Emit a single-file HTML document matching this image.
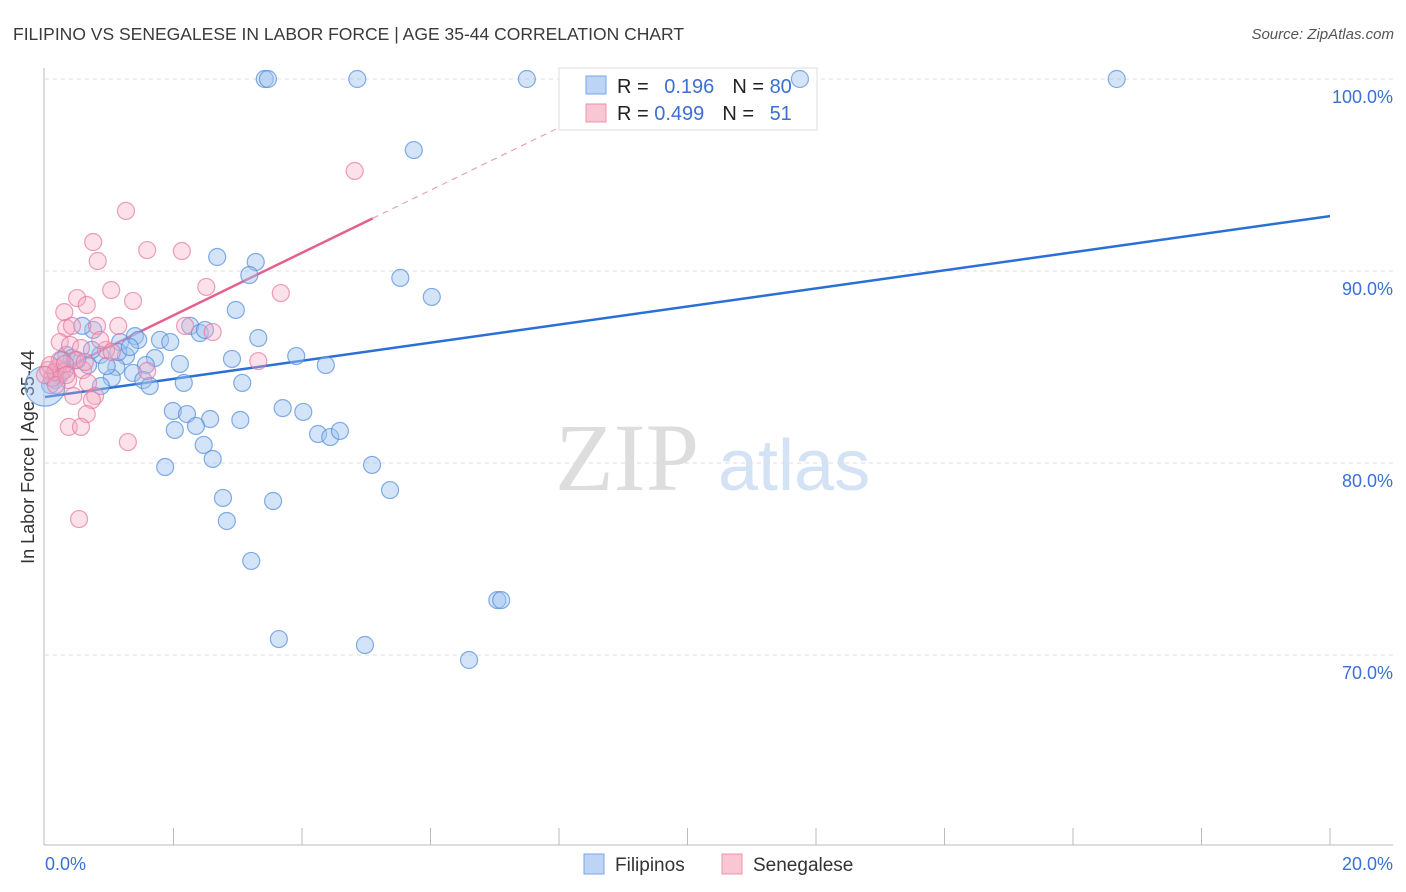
<!DOCTYPE html>
<html><head><meta charset="utf-8"><style>
body{margin:0;background:#fff;font-family:"Liberation Sans",sans-serif}
svg{display:block}
</style></head><body>
<svg id="chart" width="1406" height="892" xmlns="http://www.w3.org/2000/svg">
<text x="13" y="40" font-size="17.5" fill="#3a3a3a">FILIPINO VS SENEGALESE IN LABOR FORCE | AGE 35-44 CORRELATION CHART</text>
<text x="1394" y="39" font-size="15" fill="#555" font-style="italic" text-anchor="end">Source: ZipAtlas.com</text>
<text x="555" y="490" font-size="96" fill="#ddd" font-family="Liberation Serif,serif">ZIP</text>
<text x="718" y="490" font-size="72" fill="#d4e2f5">atlas</text>
<text transform="translate(34,457) rotate(-90)" font-size="18" fill="#333" text-anchor="middle">In Labor Force | Age 35-44</text>
<g id="grid"></g><g id="lines"></g>
<g>
<rect x="559" y="68" width="258" height="62" fill="#fff" stroke="#ddd"/>
<rect x="586" y="76" width="20" height="18" fill="#bcd4f5" stroke="#7aa6e6"/>
<rect x="586" y="104" width="20" height="18" fill="#f9c6d4" stroke="#eb93ad"/>
<text x="617" y="93" font-size="20" fill="#222">R = <tspan fill="#3b6fd4" dx="10">0.196</tspan><tspan dx="18">N = </tspan><tspan fill="#3b6fd4">80</tspan></text>
<text x="617" y="120" font-size="20" fill="#222">R = <tspan fill="#3b6fd4">0.499</tspan><tspan dx="18">N = </tspan><tspan fill="#3b6fd4" dx="10">51</tspan></text>
</g>
<g id="pts"></g>
<g>
<rect x="584" y="854" width="20" height="20" fill="#bcd4f5" stroke="#7aa6e6"/>
<text x="615" y="871" font-size="19" fill="#333">Filipinos</text>
<rect x="722" y="854" width="20" height="20" fill="#f9c6d4" stroke="#eb93ad"/>
<text x="753" y="871" font-size="19" fill="#333">Senegalese</text>
</g>
</svg>
<script>
const xTicks=[0,20];
const yTicks=[70,80,90,100];
const filX=[3.42,3.47,4.86,7.50,11.75,16.68,5.74,2.68,3.28,3.18,5.53,6.02,2.97,0.75,0.58,2.26,2.41,3.32,1.40,1.45,1.79,1.95,1.17,0.33,0.42,0.86,1.26,1.71,2.91,3.91,2.10,1.57,0.67,1.11,1.37,0.23,0.16,1.04,1.53,1.63,2.16,3.07,0.87,4.37,1.99,2.21,2.57,3.04,3.70,4.02,2.35,2.02,4.25,4.44,4.59,2.47,2.61,1.87,5.09,2.77,3.55,5.37,2.83,3.21,3.64,4.98,6.60,7.04,7.10,0.08,0.16,0.31,0.50,0.73,0.26,1.14,0.96,1.32,2.49,0.0];
const filY=[100,100,100,100,100,100,96.30,90.73,90.47,89.79,89.64,88.65,87.97,86.93,87.14,87.14,86.77,86.51,86.61,86.41,86.41,86.30,86.30,85.63,85.47,85.63,85.57,85.47,85.42,85.57,85.16,85.10,85.10,85.00,84.69,84.58,84.32,84.43,84.32,84.01,84.17,84.17,84.01,85.10,82.71,82.55,82.29,82.24,82.86,82.66,81.93,81.72,81.51,81.35,81.67,80.94,80.21,79.79,79.90,78.18,78.02,78.59,76.98,74.90,70.83,70.52,69.74,72.86,72.86,84.06,84.74,84.84,85.36,85.89,85.36,85.78,85.05,86.04,86.93,84.0];
const senX=[1.26,0.75,0.82,1.59,2.13,4.82,1.03,0.50,0.65,1.37,2.51,3.67,0.30,0.33,0.42,0.81,1.14,2.18,2.61,0.23,0.39,0.56,0.95,0.19,0.26,0.05,0.11,0.16,0.36,0.59,0.67,0.44,0.78,0.73,0.65,0.37,0.56,1.29,0.53,3.32,1.59,0.23,0.08,0.00,0.47,0.86,0.17,0.31,0.62,0.33,1.04];
const senY=[93.13,91.51,90.52,91.09,91.04,95.21,89.01,88.59,88.23,88.44,89.17,88.85,87.86,87.03,87.14,87.14,87.14,87.14,86.82,86.30,86.15,85.99,85.89,84.95,84.74,84.84,84.43,84.74,84.32,84.84,84.17,83.49,83.49,83.28,82.55,81.88,81.88,81.09,77.08,85.31,84.79,85.36,85.10,84.58,85.36,86.41,84.06,85.16,85.26,84.58,85.78];
const filTrend=[83.44,92.86];
const senTrend=[84.43,1.63];
const NS="http://www.w3.org/2000/svg";
const X=v=>45+v*64.25, Y=v=>79+(100-v)*19.2;
function mk(t,a,p){const e=document.createElementNS(NS,t);for(const k in a)e.setAttribute(k,a[k]);document.getElementById(p).appendChild(e);return e;}
mk('line',{x1:44,y1:68,x2:44,y2:845,stroke:'#bbb'},'grid');
mk('line',{x1:44,y1:845,x2:1393,y2:845,stroke:'#bbb'},'grid');
for(let i=1;i<=10;i++){const l=mk('line',{x1:45+i*128.5,y1:828,x2:45+i*128.5,y2:845,stroke:'#bbb'},'grid');

}
yTicks.forEach(v=>{const l=mk('line',{x1:45,y1:Y(v),x2:1393,y2:Y(v),stroke:'#ddd','stroke-dasharray':'4,4'},'grid');


const t=mk('text',{x:1393,y:Y(v)+24,'font-size':18,fill:'#3b6fd4','text-anchor':'end'},'grid');t.textContent=v.toFixed(1)+'%';

});
xTicks.forEach((v,i)=>{const t=mk('text',{x:i?1393:45,y:870,'font-size':18,fill:'#3b6fd4','text-anchor':i?'end':'start'},'grid');t.textContent=v.toFixed(1)+'%';

});
filX.forEach((v,i)=>{const c=mk('circle',{cx:X(v),cy:Y(filY[i]),r:i==79?20:8.5,fill:'rgba(160,195,240,0.45)',stroke:'rgba(80,140,220,0.7)','stroke-width':1.2},'pts');

});
senX.forEach((v,i)=>{const c=mk('circle',{cx:X(v),cy:Y(senY[i]),r:8.5,fill:'rgba(245,170,195,0.35)',stroke:'rgba(230,120,155,0.7)','stroke-width':1.2},'pts');

});
const bl=mk('line',{x1:X(0),y1:Y(filTrend[0]),x2:X(20),y2:Y(filTrend[1]),stroke:'#2a6fd6','stroke-width':2.5},'lines');


const sEnd=5.1, sDash=(100-senTrend[0])/senTrend[1];
const pl=mk('line',{x1:X(0),y1:Y(senTrend[0]),x2:X(sEnd),y2:Y(senTrend[0]+senTrend[1]*sEnd),stroke:'#e5608e','stroke-width':2.5},'lines');


const pd=mk('line',{x1:X(sEnd),y1:Y(senTrend[0]+senTrend[1]*sEnd),x2:X(sDash),y2:Y(100),stroke:'#eba0b8','stroke-width':1.2,'stroke-dasharray':'6,5'},'lines');


</script>
</body></html>
